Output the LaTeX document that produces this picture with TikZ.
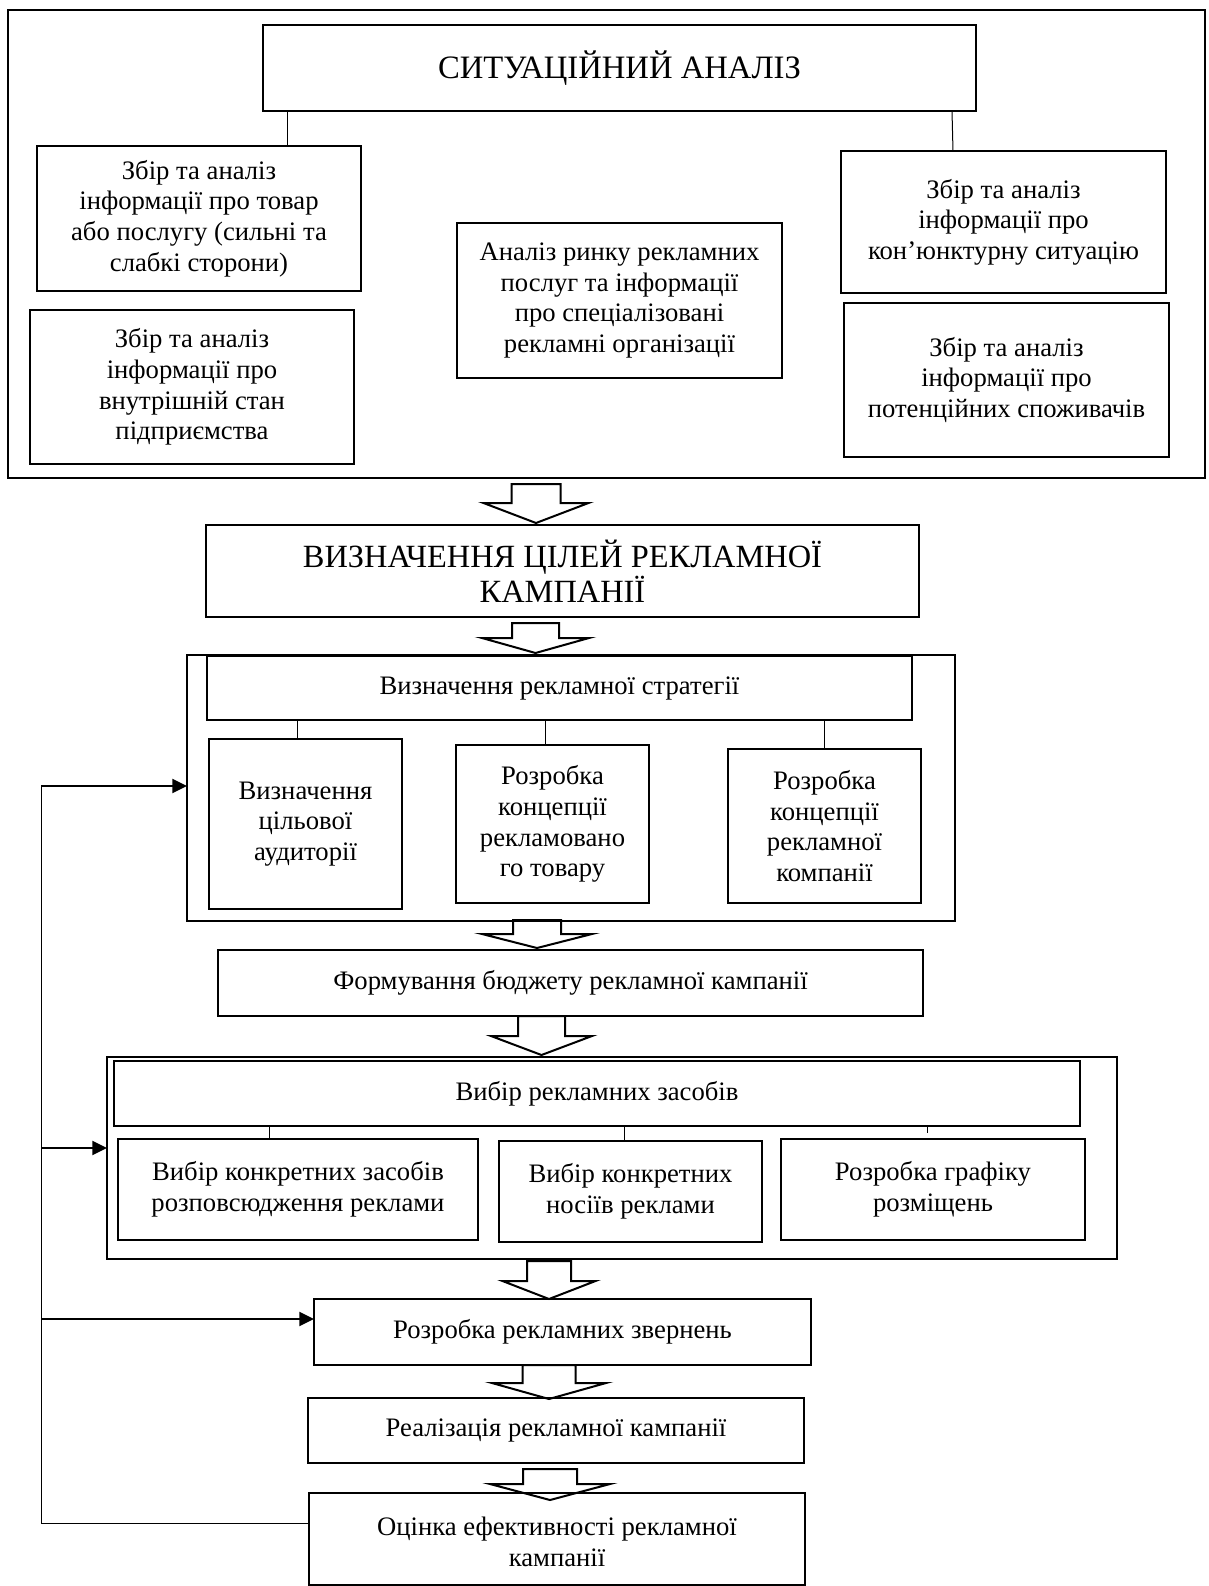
\documentclass[tikz,border=0pt]{standalone}
\usepackage{fontspec}
\setmainfont{Liberation Serif}
\usetikzlibrary{arrows.meta,calc,fit}

\newcommand\bodyfont{\fontsize{20}{23}\selectfont}
\newcommand\headfont{\fontsize{24.5}{28}\selectfont}
\newcommand\goalfont{\fontsize{24.3}{26.3}\selectfont}

\tikzset{
  box/.style={draw, line width=1.5pt, inner sep=0pt, outer sep=0pt},
  lbl/.style={align=center, inner sep=0pt, font=\bodyfont},
  link/.style={line width=0.75pt},
  hollow/.style={draw, line width=1.5pt, line join=miter},
  feed/.style={line width=1.5pt, -{Triangle[length=11pt,width=10.5pt]}},
}

% framed box spanning two corners, with its centred text as a second node
% #1 name, #2 corner, #3 opposite corner, #4 extra options for the text, #5 text
\newcommand\stage[5]{%
  \node[box, fit={#2 #3}] (#1) {};
  \node[lbl, #4] (#1-t) at (#1.center) {#5};}

% hollow block arrow pointing down:
% #1 x, #2 source node, #3 target node, #4 offset of the tail, #5 offset of the tip,
% #6 shaft half width, #7 head half width, #8 head length
\newcommand\hollowdown[8]{%
  \path (#1,0 |- #2.south) coordinate (ha-t) (#1,0 |- #3.north) coordinate (ha-b);
  \draw[hollow] ($(ha-t)+(-#6,#4)$) -- ($(ha-t)+(#6,#4)$) -- ($(ha-b)+(#6,#5-#8)$)
    -- ($(ha-b)+(#7,#5-#8)$) -- ($(ha-b)+(0,#5)$) -- ($(ha-b)+(-#7,#5-#8)$)
    -- ($(ha-b)+(-#6,#5-#8)$) -- cycle;}

\begin{document}
\begin{tikzpicture}[x=0.75pt, y=-0.75pt]
\useasboundingbox (0,0) rectangle (1208,1586);

% situational analysis block
\node[box, fit={(8,10) (1205,478)}] (frame) {};
\stage{title}{(263,25)}{(976,111)}{font=\headfont}{СИТУАЦІЙНИЙ АНАЛІЗ}
\stage{l1}{(37,146)}{(361,291)}{}{Збір та аналіз\\інформації про товар\\або послугу (сильні та\\слабкі сторони)}
\stage{l2}{(30,310)}{(354,464)}{}{Збір та аналіз\\інформації про\\внутрішній стан\\підприємства}
\stage{mid}{(457,223)}{(782,378)}{}{Аналіз ринку рекламних\\послуг та інформації\\про спеціалізовані\\рекламні організації}
\stage{r1}{(841,151)}{(1166,293)}{}{Збір та аналіз\\інформації про\\кон’юнктурну ситуацію}
\stage{r2}{(844,303)}{(1169,457)}{}{Збір та аналіз\\інформації про\\потенційних споживачів}
\draw[link] (287,0 |- title.south) -- (287,0 |- l1.north);
\draw[link] (952,0 |- title.south) -- (953,0 |- r1.north);

% goals
\stage{goals}{(206,525)}{(919,617)}{font=\goalfont}{ВИЗНАЧЕННЯ ЦІЛЕЙ РЕКЛАМНОЇ\\КАМПАНІЇ}

% strategy block
\node[box, fit={(187,655) (955,921)}] (strat) {};
\stage{strathdr}{(207,656)}{(912,720)}{}{Визначення рекламної стратегії}
\stage{s1}{(209,739)}{(402,909)}{}{Визначення\\цільової\\аудиторії}
\stage{s2}{(456,745)}{(649,903)}{}{Розробка\\концепції\\рекламовано\\го товару}
\stage{s3}{(728,749)}{(921,903)}{}{Розробка\\концепції\\рекламної\\компанії}
\draw[link] (297,0 |- strathdr.south) -- (297,0 |- s1.north);
\draw[link] (545,0 |- strathdr.south) -- (545,0 |- s2.north);
\draw[link] (824,0 |- strathdr.south) -- (824,0 |- s3.north);

% budget
\stage{budget}{(218,950)}{(923,1016)}{}{Формування бюджету рекламної кампанії}

% media block
\node[box, fit={(107,1057) (1117,1259)}] (media) {};
\stage{mediahdr}{(114,1061)}{(1080,1126)}{}{Вибір рекламних засобів}
\stage{m1}{(118,1139)}{(478,1240)}{}{Вибір конкретних засобів\\розповсюдження реклами}
\stage{m2}{(499,1141)}{(762,1242)}{}{Вибір конкретних\\носіїв реклами}
\stage{m3}{(781,1139)}{(1085,1240)}{}{Розробка графіку\\розміщень}
\draw[link] (269,0 |- mediahdr.south) -- (269,0 |- m1.north);
\draw[link] (624,0 |- mediahdr.south) -- (624,0 |- m2.north);
\draw[link] (927,0 |- mediahdr.south) -- ++(0,7);

% remaining stages
\stage{msg}{(314,1299)}{(811,1365)}{}{Розробка рекламних звернень}
\stage{impl}{(308,1398)}{(804,1463)}{}{Реалізація рекламної кампанії}
\stage{eval}{(309,1493)}{(805,1585)}{yshift=-2pt}{Оцінка ефективності рекламної\\кампанії}

% block arrows between stages
\hollowdown{536}{frame}{goals}{6}{-2}{24.5}{52.5}{20}
\hollowdown{535.5}{goals}{strat}{6}{-2}{23.5}{53.5}{15}
\hollowdown{537}{strat}{budget}{-1}{-2}{24}{55}{14}
\hollowdown{541.5}{budget}{media}{0}{-2}{23.5}{50.5}{19}
\hollowdown{549}{media}{msg}{2}{0}{22}{46.5}{18}
\hollowdown{549}{msg}{impl}{0}{1}{26.5}{57}{16}
\hollowdown{550}{impl}{eval}{6}{7}{27}{60}{16}

% feedback loop
\coordinate (fbtop) at (41,786);
\coordinate (fbm) at (41,1148);
\coordinate (fbr) at (41,1319);
\coordinate (fbbot) at (41,1523);
\draw[link] (eval.west |- fbbot) -- (fbbot) -- (fbtop);
\draw[feed] (fbtop) -- (fbtop -| strat.west);
\draw[feed] (fbm) -- (fbm -| media.west);
\draw[feed] (fbr) -- (fbr -| msg.west);
\end{tikzpicture}
\end{document}
